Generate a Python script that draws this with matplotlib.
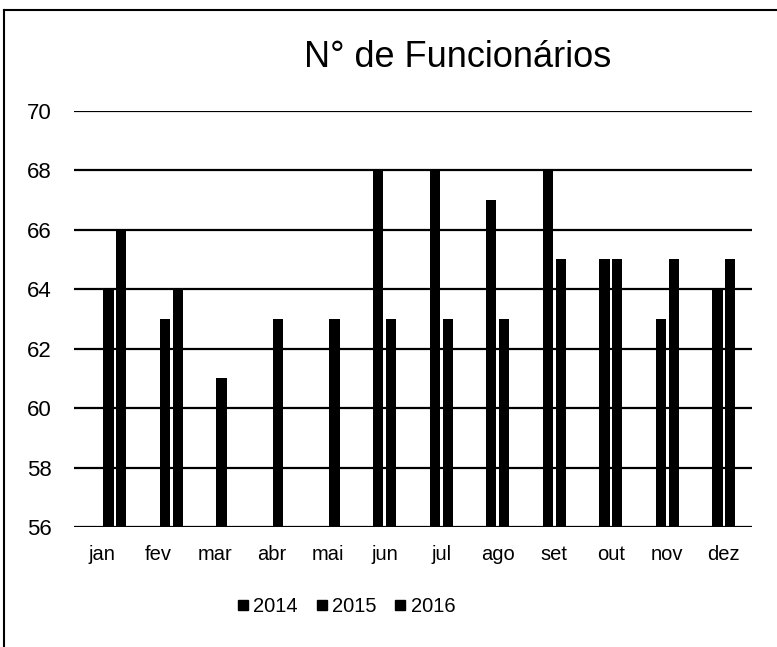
import matplotlib
matplotlib.use("Agg")
import matplotlib.pyplot as plt
from matplotlib.lines import Line2D
import numpy as np

plt.rcParams['font.family'] = ['Liberation Sans', 'DejaVu Sans']

# Monthly headcount per year (missing months are not plotted)
months = ['jan', 'fev', 'mar', 'abr', 'mai', 'jun',
          'jul', 'ago', 'set', 'out', 'nov', 'dez']
years = ['2014', '2015', '2016']
v2014 = [np.nan, np.nan, np.nan, np.nan, np.nan, 68, 68, 67, 68, 65, 63, 64]
v2015 = [64, 63, 61, 63, 63, 63, 63, 63, 65, 65, 65, 65]
v2016 = [66, 64, np.nan, np.nan, np.nan, np.nan, np.nan, np.nan, np.nan,
         np.nan, np.nan, np.nan]
yticks = [56, 58, 60, 62, 64, 66, 68, 70]

fig = plt.figure(figsize=(7.77, 6.47), dpi=100)
ax = fig.add_axes([0.095, 0.185, 0.873, 0.644])

x = np.arange(len(months))
pitch = 0.225
width = 0.18
series = [v2014, v2015, v2016]
offsets = [-0.5 * pitch, 0.5 * pitch, 1.5 * pitch]

# gridlines first, bars on top
for t in yticks:
    ax.axhline(t, color='black', linewidth=1.6, zorder=1)

for vals, off in zip(series, offsets):
    ax.bar(x + off, vals, width=width, color='black', edgecolor='none', zorder=2)

ax.set_xlim(-0.5, len(months) - 0.5)
ax.set_ylim(56, 70)
ax.set_yticks(yticks)
ax.set_xticks(x)
ax.set_xticklabels(months, fontsize=14.5)
ax.tick_params(axis='y', labelsize=16, length=0, pad=16)
ax.tick_params(axis='x', length=0, pad=13)
for s in ax.spines.values():
    s.set_visible(False)

fig.text(458 / 777, 1 - 67 / 647, 'N° de Funcionários', fontsize=26,
         ha='center', va='baseline')

# legend with small square keys
handles = [Line2D([], [], linestyle='none', marker='s', markersize=7,
                  color='black') for _ in years]
fig.legend(handles, years, loc='center', bbox_to_anchor=(346 / 777, 1 - 607 / 647),
           ncol=3, frameon=False, fontsize=14.5, handlelength=0.6,
           handletextpad=0.2, columnspacing=0.9)

# outer border (left and top edges)
fig.add_artist(Line2D([4 / 777, 4 / 777], [0, 1 - 10 / 647],
                      transform=fig.transFigure, color='black', linewidth=1.5))
fig.add_artist(Line2D([4 / 777, 1], [1 - 10 / 647, 1 - 10 / 647],
                      transform=fig.transFigure, color='black', linewidth=1.5))

fig.savefig('out.png', dpi=100)
